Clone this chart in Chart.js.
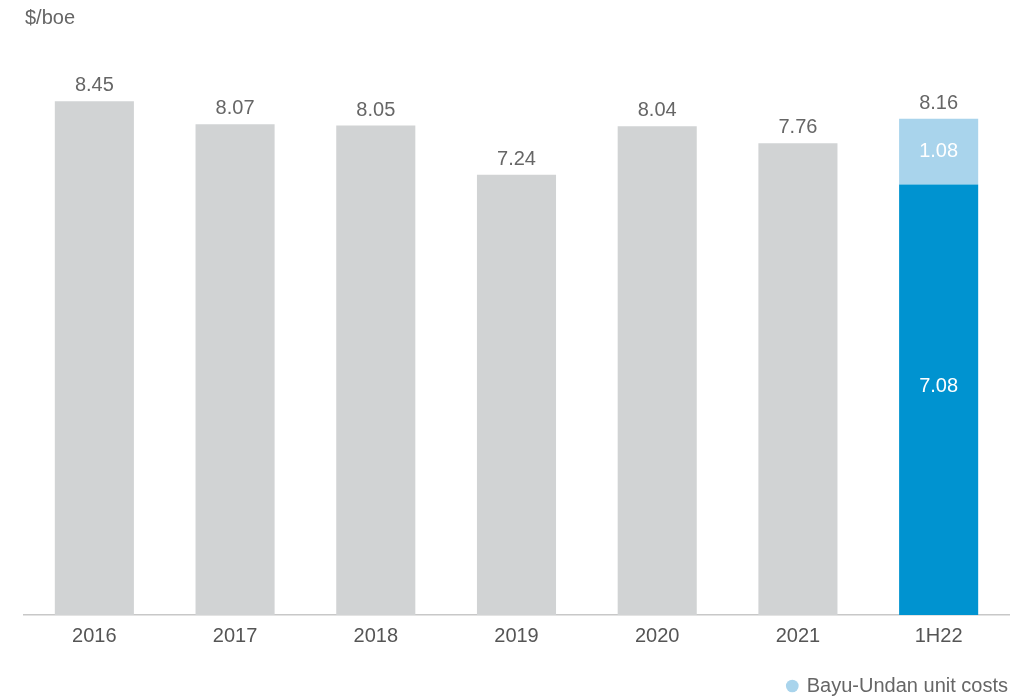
<!DOCTYPE html>
<html>
<head>
<meta charset="utf-8">
<script src="https://cdn.jsdelivr.net/npm/chart.js@4"></script>
<style>
  html, body { margin: 0; padding: 0; background: #fff; }
  #wrap { width: 1027px; height: 696px; position: relative; }
</style>
</head>
<body>
<div id="wrap"><canvas id="costChart"></canvas></div>
<script>
// 単位コストのデータ
const categories = ['2016', '2017', '2018', '2019', '2020', '2021', '1H22'];
const otherCosts = [8.45, 8.07, 8.05, 7.24, 8.04, 7.76, null];
const baseCosts = [null, null, null, null, null, null, 7.08];
const bayuUndanCosts = [null, null, null, null, null, null, 1.08];
const totalLabels = ['8.45', '8.07', '8.05', '7.24', '8.04', '7.76', '8.16'];
const unitLabel = '$/boe';

const FONT = 'Liberation Sans, Arial, sans-serif';
const FONT_SIZE = 20;

// バーの上と中に数値を描くプラグイン
const valueLabels = {
    id: 'valueLabels',
    afterDatasetsDraw(chart) {
        const ctx = chart.ctx;
        ctx.save();
        ctx.font = FONT_SIZE + 'px ' + FONT;
        ctx.textAlign = 'center';
        ctx.textBaseline = 'alphabetic';
        categories.forEach((c, i) => {
            let topY = null, x = null;
            chart.data.datasets.forEach((ds, di) => {
                const el = chart.getDatasetMeta(di).data[i];
                if (ds.data[i] != null && el) {
                    x = el.x;
                    topY = topY === null ? el.y : Math.min(topY, el.y);
                }
            });
            if (topY !== null) {
                ctx.fillStyle = '#666666';
                ctx.fillText(totalLabels[i], x, topY - 10);
            }
        });
        // 積み上げ部分の中の白い数値
        ctx.textBaseline = 'middle';
        ctx.fillStyle = '#ffffff';
        [1, 2].forEach(di => {
            const ds = chart.data.datasets[di];
            chart.getDatasetMeta(di).data.forEach((el, i) => {
                if (ds.data[i] == null) return;
                const shift = di === 1 ? 13 : 0;
                ctx.fillText(ds.data[i].toFixed(2), el.x, (el.y + el.base) / 2 - shift);
            });
        });
        ctx.fillStyle = '#666666';
        ctx.textAlign = 'left';
        ctx.fillText(unitLabel, 25, 18);
        ctx.restore();
    }
};

new Chart(document.getElementById('costChart'), {
    type: 'bar',
    data: {
        labels: categories,
        datasets: [
            { label: 'Other', data: otherCosts, backgroundColor: '#d1d3d4' },
            { label: 'Base', data: baseCosts, backgroundColor: '#0093d0' },
            { label: 'Bayu-Undan unit costs', data: bayuUndanCosts, backgroundColor: '#a9d4ec' }
        ]
    },
    options: {
        responsive: true,
        maintainAspectRatio: false,
        animation: false,
        datasets: { bar: { barPercentage: 0.562, categoryPercentage: 1.0, skipNull: false } },
        layout: { padding: { top: 7, left: 24, right: 18, bottom: -10 } },
        plugins: {
            legend: {
                position: 'bottom',
                align: 'end',
                labels: {
                    filter: item => item.datasetIndex === 2,
                    usePointStyle: true,
                    pointStyle: 'circle',
                    boxWidth: 9,
                    boxHeight: 9,
                    color: '#666666',
                    font: { family: FONT, size: FONT_SIZE },
                    padding: 1
                }
            },
            tooltip: { enabled: false }
        },
        scales: {
            x: {
                stacked: true,
                grid: { display: false, drawTicks: false },
                border: { display: true, color: '#c8c8c8', width: 1.5 },
                ticks: { color: '#555555', font: { family: FONT, size: FONT_SIZE }, padding: 9 },
                afterFit: scale => { scale.height += 18; }
            },
            y: {
                stacked: true,
                display: false,
                min: 0,
                max: 10
            }
        }
    },
    plugins: [valueLabels]
});
</script>
</body>
</html>
